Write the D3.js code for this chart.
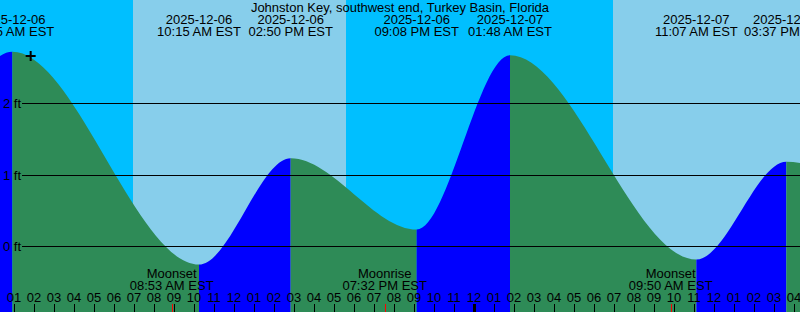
<!DOCTYPE html>
<html>
<head>
<meta charset="utf-8">
<script src="https://cdn.jsdelivr.net/npm/d3@7"></script>
<style>
  body { margin: 0; overflow: hidden; }
  svg { display: block; font-family: "Liberation Sans", Arial, sans-serif; font-size: 13px; }
</style>
</head>
<body>
<svg id="chart"></svg>
<script>
// Station and data
const stationName = "Johnston Key, southwest end, Turkey Basin, Florida";

// high / low tide events (first and last are just outside the window)
const tideTimes = ["2025-12-05 20:10", "2025-12-06 00:55", "2025-12-06 10:15", "2025-12-06 14:50",
                   "2025-12-06 21:08", "2025-12-07 01:48", "2025-12-07 11:07", "2025-12-07 15:37",
                   "2025-12-07 21:55"];
const tideLevels = [0.22, 2.72, -0.26, 1.23, 0.23, 2.67, -0.19, 1.18, 0.25];

const sunsetTimes = ["2025-12-05 17:36", "2025-12-06 17:36"];
const sunriseTimes = ["2025-12-06 06:57", "2025-12-07 06:57"];

const moonNames = ["Moonset", "Moonrise", "Moonset"];
const moonTimes = ["2025-12-06 08:53", "2025-12-06 19:32", "2025-12-07 09:50"];

const levelTicks = [0, 1, 2];

const nowTime = "2025-12-06 01:50";
const nowLevel = 2.66;

const windowStart = "2025-12-06 00:18";
const windowEnd = "2025-12-07 16:18";

const width = 800, height = 312;
const parse = d3.timeParse("%Y-%m-%d %H:%M");
const fmtDate = d3.timeFormat("%Y-%m-%d");
const fmtTime = d3.timeFormat("%I:%M %p EST");

const tides = tideTimes.map((t, i) => ({ time: parse(t), level: tideLevels[i] }));

const svg = d3.select("#chart")
    .attr("width", width)
    .attr("height", height);

const x = d3.scaleTime()
    .domain([parse(windowStart), parse(windowEnd)])
    .range([0, width]);

const y = d3.scaleLinear()
    .domain([0, 2])
    .range([246, 103.2]);

// day background, night bands on top
svg.append("rect")
    .attr("width", width)
    .attr("height", height)
    .attr("fill", "#87ceeb");

svg.selectAll("rect.night")
    .data(sunsetTimes.map((s, i) => [parse(s), parse(sunriseTimes[i])]))
  .join("rect")
    .attr("class", "night")
    .attr("x", d => x(d[0]))
    .attr("y", 0)
    .attr("width", d => x(d[1]) - x(d[0]))
    .attr("height", height)
    .attr("fill", "#00bfff");

// tide area, coloured per segment (rising = blue, falling = green)
const area = d3.area()
    .x(d => x(d.time))
    .y0(height)
    .y1(d => y(d.level))
    .curve(d3.curveMonotoneX);

const segments = d3.pairs(tides);
const defs = svg.append("defs");
segments.forEach((s, i) => {
  defs.append("clipPath")
      .attr("id", "seg" + i)
    .append("rect")
      .attr("x", x(s[0].time))
      .attr("y", 0)
      .attr("width", x(s[1].time) - x(s[0].time))
      .attr("height", height);
});

svg.selectAll("path.tide")
    .data(segments)
  .join("path")
    .attr("class", "tide")
    .attr("clip-path", (d, i) => `url(#seg${i})`)
    .attr("d", area(tides))
    .attr("fill", d => d[1].level > d[0].level ? "#0000ff" : "#2e8b57");

// level lines
svg.selectAll("line.level")
    .data(levelTicks)
  .join("line")
    .attr("class", "level")
    .attr("x1", 22)
    .attr("x2", width)
    .attr("y1", d => Math.round(y(d)) + 0.5)
    .attr("y2", d => Math.round(y(d)) + 0.5)
    .attr("stroke", "#000");

svg.selectAll("text.level")
    .data(levelTicks)
  .join("text")
    .attr("class", "level")
    .attr("x", 3)
    .attr("y", d => y(d) + 5)
    .text(d => d + " ft");

// title
svg.append("text")
    .attr("x", width / 2)
    .attr("y", 12)
    .attr("text-anchor", "middle")
    .text(stationName);

// high / low labels
const tideLabel = svg.selectAll("g.tidelabel")
    .data(tides)
  .join("g")
    .attr("class", "tidelabel")
    .attr("transform", d => `translate(${x(d.time)},0)`)
    .attr("text-anchor", "middle");
tideLabel.append("text").attr("y", 24).text(d => fmtDate(d.time));
tideLabel.append("text").attr("y", 36).text(d => fmtTime(d.time));

// moon labels
const moon = moonNames.map((n, i) => ({ name: n, time: parse(moonTimes[i]) }));
const moonLabel = svg.selectAll("g.moon")
    .data(moon)
  .join("g")
    .attr("class", "moon")
    .attr("transform", d => `translate(${x(d.time)},0)`)
    .attr("text-anchor", "middle");
moonLabel.append("text").attr("y", 278).text(d => d.name);
moonLabel.append("text").attr("y", 290).text(d => fmtTime(d.time));

// hour ticks
const hours = d3.timeHour.range(x.domain()[0], x.domain()[1]);
svg.selectAll("line.hour")
    .data(hours)
  .join("line")
    .attr("class", "hour")
    .attr("x1", d => Math.round(x(d)) + 0.5)
    .attr("x2", d => Math.round(x(d)) + 0.5)
    .attr("y1", 304)
    .attr("y2", height)
    .attr("stroke", "#000")
    .attr("stroke-width", d => d.getHours() === 0 ? 3 : 1);

svg.selectAll("text.hour")
    .data(hours)
  .join("text")
    .attr("class", "hour")
    .attr("x", d => x(d))
    .attr("y", 302)
    .attr("text-anchor", "middle")
    .text(d3.timeFormat("%I"));

svg.selectAll("line.moontick")
    .data(moon)
  .join("line")
    .attr("class", "moontick")
    .attr("x1", d => Math.round(x(d.time)) + 0.5)
    .attr("x2", d => Math.round(x(d.time)) + 0.5)
    .attr("y1", 304)
    .attr("y2", height)
    .attr("stroke", "#ff0000");

// current time mark
const nx = x(parse(nowTime)), ny = y(nowLevel);
svg.append("path")
    .attr("d", `M${nx - 5},${ny}H${nx + 5}M${nx},${ny - 5}V${ny + 5}`)
    .attr("stroke", "#000")
    .attr("stroke-width", 2);
</script>
</body>
</html>
